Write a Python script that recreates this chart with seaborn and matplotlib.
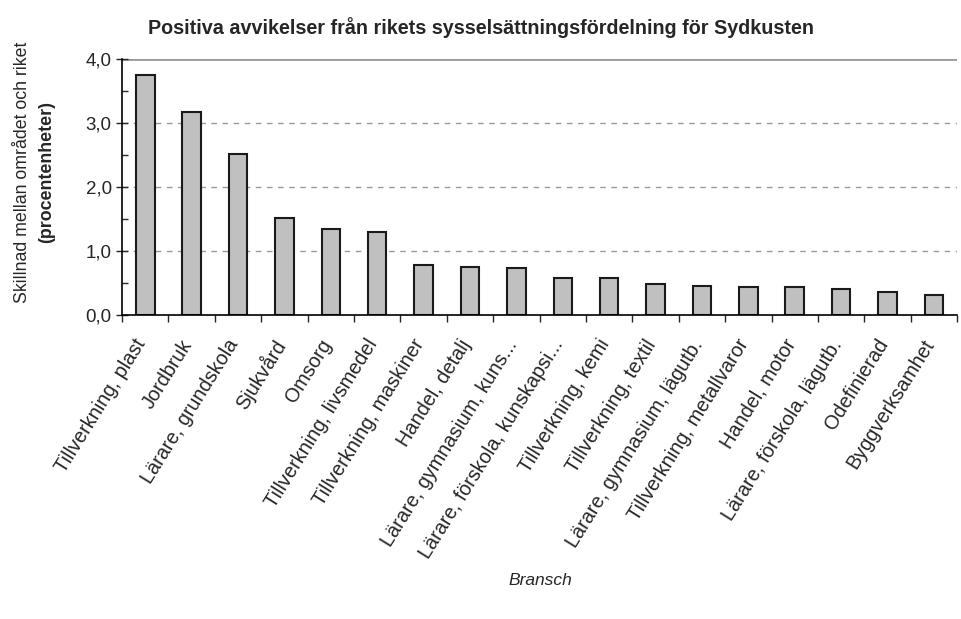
import pandas as pd
import matplotlib
matplotlib.use('Agg')
import matplotlib.pyplot as plt
import seaborn as sns
from matplotlib.ticker import MultipleLocator, FixedLocator


# Data
branscher = ['Tillverkning, plast', 'Jordbruk', 'Lärare, grundskola', 'Sjukvård',
             'Omsorg', 'Tillverkning, livsmedel', 'Tillverkning, maskiner',
             'Handel, detalj', 'Lärare, gymnasium, kuns...', 'Lärare, förskola, kunskapsi...',
             'Tillverkning, kemi', 'Tillverkning, textil', 'Lärare, gymnasium, lägutb.',
             'Tillverkning, metallvaror', 'Handel, motor', 'Lärare, förskola, lägutb.',
             'Odefinierad', 'Byggverksamhet']
avvikelse = [3.75, 3.17, 2.51, 1.51, 1.34, 1.29, 0.78, 0.755, 0.73, 0.58,
             0.58, 0.48, 0.46, 0.44, 0.44, 0.41, 0.36, 0.31]

df = pd.DataFrame({'Bransch': branscher, 'Skillnad': avvikelse})

sns.set_style('white')
plt.rcParams['font.family'] = ['Liberation Sans', 'DejaVu Sans']

fig = plt.figure(figsize=(9.61, 6.19), dpi=100)
ax = fig.add_axes([0.127, 0.491, 0.869, 0.414])

sns.barplot(data=df, x='Bransch', y='Skillnad', color='#c0c0c0',
            edgecolor='#1a1a1a', linewidth=1.5, width=0.4, saturation=1, ax=ax)

ax.set_ylim(0, 4.0)
ax.set_xlim(-0.5, len(branscher) - 0.5)
ax.yaxis.set_major_locator(MultipleLocator(1.0))
ax.yaxis.set_minor_locator(MultipleLocator(0.5))
ax.set_yticklabels([f'{v:.1f}'.replace('.', ',') for v in ax.get_yticks()], fontsize=13.5)

# dashed gridlines and solid top line
for v in [1, 2, 3]:
    ax.axhline(v, color='#999999', linestyle=(0, (4, 4)), linewidth=1, zorder=0)
ax.axhline(4.0, color='#999999', linewidth=2, zorder=0)

# x ticks at category boundaries; labels on invisible minor ticks,
# nudged left so the rotated text ends above the bar centre
ax.xaxis.set_major_locator(FixedLocator([i - 0.5 for i in range(len(branscher) + 1)]))
ax.set_xticklabels([])
ax.xaxis.set_minor_locator(FixedLocator([i - 0.25 for i in range(len(branscher))]))
ax.set_xticklabels(branscher, minor=True, rotation=58, ha='right',
                   rotation_mode='anchor', fontsize=14.3)
ax.tick_params(axis='x', which='minor', length=0, pad=15)
ax.tick_params(axis='x', which='major', direction='out', length=5, width=1, bottom=True)
ax.tick_params(axis='y', which='major', direction='inout', length=8, width=1, left=True)
ax.tick_params(axis='y', which='minor', direction='in', length=4, width=1, left=True)

for side in ['top', 'right']:
    ax.spines[side].set_visible(False)
for side in ['left', 'bottom']:
    ax.spines[side].set_color('black')
    ax.spines[side].set_linewidth(1.2)

ax.set_xlabel('')
ax.set_ylabel('')

fig.text(0.5, 0.955, 'Positiva avvikelser från rikets sysselsättningsfördelning för Sydkusten',
         ha='center', va='center', fontsize=14.2, fontweight='bold')
fig.text(0.562, 0.063, 'Bransch', ha='center', va='center', fontsize=12.5, style='italic')
fig.text(0.023, 0.722, 'Skillnad mellan området och riket', rotation=90,
         ha='center', va='center', fontsize=12.8)
fig.text(0.048, 0.722, '(procentenheter)', rotation=90,
         ha='center', va='center', fontsize=12.8, fontweight='bold')

plt.savefig('out.png', dpi=100)
